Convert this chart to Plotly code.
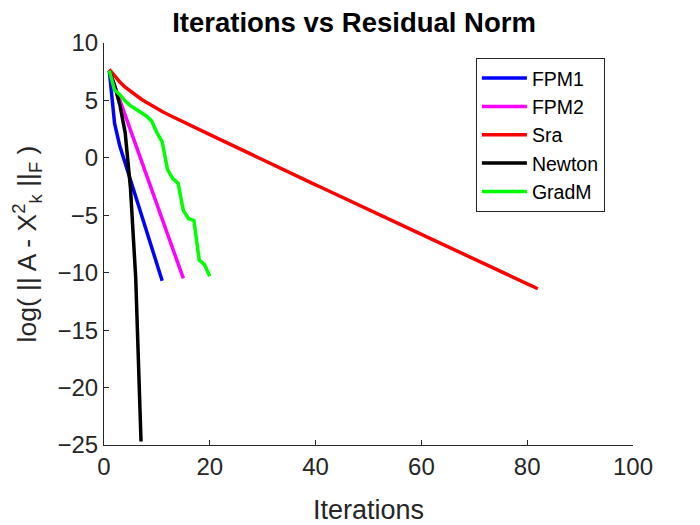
import plotly.graph_objects as go

# ---- data ----
fpm1_k = list(range(1, 12))
fpm1_v = [7.6, 3.0, 1.0, -0.46, -1.93, -3.39, -4.85, -6.31, -7.78, -9.24, -10.7]

fpm2_k = list(range(1, 16))
fpm2_v = [7.6, 6.3, 5.0, 3.7, 2.4, 1.1, -0.2, -1.5, -2.75, -4.0, -5.3, -6.6, -7.9, -9.2, -10.5]

sra_k = list(range(1, 83))
sra_v = [7.7, 7.1, 6.6, 6.15, 5.78, 5.45, 5.13, 4.83, 4.55, 4.28,
         4.03, 3.80, 3.57, 3.35, 3.13, 2.91, 2.69, 2.47, 2.25, 2.03,
         1.81, 1.59, 1.37, 1.10, 0.88, 0.67, 0.45, 0.24, 0.02, -0.19,
         -0.41, -0.62, -0.84, -1.06, -1.27, -1.49, -1.70, -1.92, -2.13, -2.35,
         -2.56, -2.78, -2.99, -3.21, -3.43, -3.64, -3.86, -4.07, -4.29, -4.50,
         -4.72, -4.93, -5.15, -5.36, -5.58, -5.80, -6.01, -6.23, -6.44, -6.66,
         -6.87, -7.09, -7.30, -7.52, -7.73, -7.95, -8.17, -8.38, -8.60, -8.81,
         -9.03, -9.24, -9.46, -9.67, -9.89, -10.10, -10.32, -10.54, -10.75, -10.97,
         -11.18, -11.40]

newton_k = list(range(1, 8))
newton_v = [7.6, 6.3, 4.6, 2.2, -2.6, -10.5, -24.7]

gradm_k = list(range(1, 21))
gradm_v = [7.6, 5.9, 5.5, 4.95, 4.55, 4.25, 3.95, 3.65, 3.2, 2.2,
           1.4, -1.0, -1.8, -2.2, -4.6, -5.3, -5.45, -8.9, -9.3, -10.3]

names = ["FPM1", "FPM2", "Sra", "Newton", "GradM"]
colors = ["#0000FF", "#FF00FF", "#FF0000", "#000000", "#00FF00"]

x_ticks = [0, 20, 40, 60, 80, 100]
y_ticks = [-25, -20, -15, -10, -5, 0, 5, 10]

series = [(fpm1_k, fpm1_v), (fpm2_k, fpm2_v), (sra_k, sra_v),
          (newton_k, newton_v), (gradm_k, gradm_v)]

fig = go.Figure()
for (k, v), n, c in zip(series, names, colors):
    fig.add_trace(go.Scatter(x=k, y=v, mode="lines", name=n,
                             line=dict(color=c, width=3.5)))

font_family = "Liberation Sans, Arial, sans-serif"
axis_col = "#262626"

fig.update_layout(
    width=692, height=517,
    margin=dict(l=96, r=67, t=35, b=80),
    paper_bgcolor="white", plot_bgcolor="white",
    font=dict(family=font_family, color=axis_col, size=24),
    title=dict(text="<b>Iterations vs Residual Norm</b>", x=0.5, xanchor="center",
               y=0.972, yanchor="middle",
               font=dict(size=27.5, color="black", family=font_family)),
    showlegend=True,
    legend=dict(x=0.703, y=0.963, xanchor="left", yanchor="top",
                bordercolor=axis_col, borderwidth=1, bgcolor="white",
                font=dict(size=19.5, color="black", family=font_family),
                tracegroupgap=0, itemwidth=45, entrywidth=100),
)
fig.update_xaxes(range=[0, 100], tickvals=x_ticks, ticks="inside", ticklen=5,
                 tickcolor=axis_col, showline=True, linecolor=axis_col, linewidth=1,
                 showgrid=False, zeroline=False, mirror=False, automargin=False,
                 tickfont=dict(size=24, color=axis_col),
                 title=dict(text="Iterations", font=dict(size=27, color=axis_col), standoff=22))
fig.update_yaxes(range=[-25, 10], tickvals=y_ticks, ticks="inside", ticklen=5,
                 tickcolor=axis_col, showline=True, linecolor=axis_col, linewidth=1,
                 showgrid=False, zeroline=False, mirror=False,
                 tickfont=dict(size=24, color=axis_col),
                 title=dict(text="log( || A - X<sup>2</sup><sub>k</sub> ||<sub>F</sub> )",
                            font=dict(size=26.5, color=axis_col), standoff=14))

fig.write_html("out.html")
